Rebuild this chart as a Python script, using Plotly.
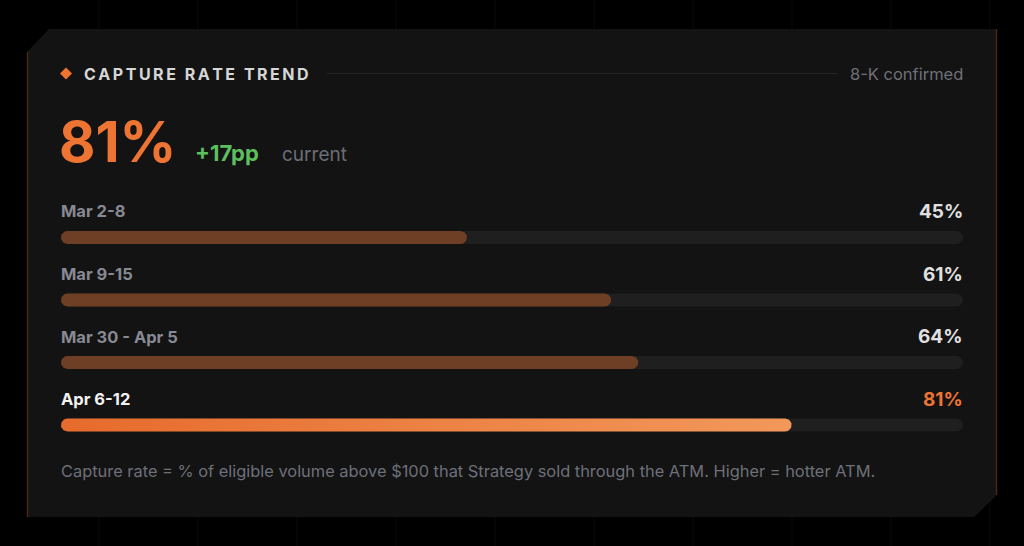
import numpy as np
import plotly.graph_objects as go

# =========================
# DATA
# =========================

weeks = ["Mar 2-8", "Mar 9-15", "Mar 30 - Apr 5", "Apr 6-12"]
capture_rate = [45, 61, 64, 81]
headline_value = "81%"
headline_delta = "+17pp"
headline_note = "current"
title_text = "CAPTURE RATE TREND"
source_text = "8-K confirmed"
footnote = ("Capture rate = % of eligible volume above $100 that Strategy "
            "sold through the ATM. Higher = hotter ATM.")

# =========================
# LAYOUT CONSTANTS (pixels)
# =========================

W, H = 1024, 546
TRACK_X0, TRACK_X1 = 61, 963
ROW0, ROW_GAP, BAR_H = 237.5, 62.5, 13
FONT = "Inter, 'Noto Sans', sans-serif"


def px(x):
    return x / W


def py(y):
    return 1 - y / H


rows = [ROW0 + i * ROW_GAP for i in range(len(weeks))]
last = len(weeks) - 1

# pill radius in axis units (x axis is 0-100 over the track, y axis is pixels)
R_Y = BAR_H / 2
R_X = R_Y * 100 / (TRACK_X1 - TRACK_X0)


def pill(value, yc):
    t_r = np.linspace(-np.pi / 2, np.pi / 2, 24)
    t_l = np.linspace(np.pi / 2, 3 * np.pi / 2, 24)
    xs = np.concatenate([value - R_X + R_X * np.cos(t_r), R_X + R_X * np.cos(t_l)])
    ys = np.concatenate([yc + R_Y * np.sin(t_r), yc + R_Y * np.sin(t_l)])
    return np.append(xs, xs[0]), np.append(ys, ys[0])


fig = go.Figure()

for i, val in enumerate(capture_rate):
    tx, ty = pill(100, rows[i])
    fig.add_trace(go.Scatter(
        x=tx, y=ty, mode="lines", fill="toself", fillcolor="#1F1F1F",
        line=dict(width=0, color="rgba(0,0,0,0)"),
        hoverinfo="skip", showlegend=False,
    ))
    bx, by = pill(val, rows[i])
    if i == last:
        fig.add_trace(go.Scatter(
            x=bx, y=by, mode="lines", fill="toself",
            line=dict(width=0, color="rgba(0,0,0,0)"),
            fillgradient=dict(type="horizontal",
                              colorscale=[[0, "#E66B2C"], [1, "#F2985A"]]),
            hoverinfo="skip", showlegend=False,
        ))
    else:
        fig.add_trace(go.Scatter(
            x=bx, y=by, mode="lines", fill="toself", fillcolor="#6E3E25",
            line=dict(width=0, color="rgba(0,0,0,0)"),
            hoverinfo="skip", showlegend=False,
        ))

# =========================
# CARD + DECORATION
# =========================

shapes = []
for gxp in range(99, W, 99):
    shapes.append(dict(type="line", xref="paper", yref="paper",
                       x0=px(gxp), x1=px(gxp), y0=0, y1=1,
                       line=dict(color="#0a0a0a", width=1), layer="below"))

card = (f"M {px(27)},{py(52)} L {px(49)},{py(29)} L {px(997)},{py(29)} "
        f"L {px(997)},{py(495)} L {px(974)},{py(517)} L {px(27)},{py(517)} Z")
shapes.append(dict(type="path", xref="paper", yref="paper", path=card,
                   fillcolor="#131313", line=dict(width=0), layer="below"))
shapes.append(dict(type="line", xref="paper", yref="paper",
                   x0=px(27.5), x1=px(27.5), y0=py(52), y1=py(517),
                   line=dict(color="#4A2616", width=1.5), layer="below"))
shapes.append(dict(type="line", xref="paper", yref="paper",
                   x0=px(996.5), x1=px(996.5), y0=py(29), y1=py(495),
                   line=dict(color="#4A2616", width=1.5), layer="below"))

# header diamond and rule
dx, dy, ds = 66, 73.5, 6
shapes.append(dict(type="path", xref="paper", yref="paper",
                   path=(f"M {px(dx)},{py(dy - ds)} L {px(dx + ds)},{py(dy)} "
                         f"L {px(dx)},{py(dy + ds)} L {px(dx - ds)},{py(dy)} Z"),
                   fillcolor="#EE7430", line=dict(width=0)))
shapes.append(dict(type="line", xref="paper", yref="paper",
                   x0=px(327), x1=px(837), y0=py(73.5), y1=py(73.5),
                   line=dict(color="#262626", width=1)))

# =========================
# TEXT
# =========================

ann = []


def label(text, x, y, size, color, weight=400, anchor="left"):
    ann.append(dict(text=text, x=px(x), y=py(y), xref="paper", yref="paper",
                    xanchor=anchor, yanchor="middle", showarrow=False,
                    font=dict(family=FONT, size=size, color=color,
                              weight=weight)))


label("\u2009".join(title_text), 82, 74, 16, "#D6D6D6", 700)
label(source_text, 965, 74, 16.5, "#6E7079", 400, "right")
label(headline_value, 57, 142, 56, "#EE7433", 700)
label(headline_delta, 193, 153, 22, "#5DBF5E", 700)
label(headline_note, 280, 154, 19, "#6B6D77", 400)

for i, (wk, val) in enumerate(zip(weeks, capture_rate)):
    is_last = i == last
    label(wk, 59, rows[i] - 26, 16.5,
          "#F2F2F2" if is_last else "#878993", 700)
    label(f"{val}%", 965, rows[i] - 26, 19,
          "#EE7433" if is_last else "#E0E0E0", 700, "right")

label(footnote, 59, 471, 16.4, "#6E7079", 400)

fig.update_layout(
    width=W, height=H,
    margin=dict(l=0, r=0, t=0, b=0),
    paper_bgcolor="#000000", plot_bgcolor="rgba(0,0,0,0)",
    xaxis=dict(domain=[px(TRACK_X0), px(TRACK_X1)], range=[0, 100],
               visible=False, fixedrange=True),
    yaxis=dict(domain=[0, 1], range=[H, 0], visible=False, fixedrange=True),
    shapes=shapes, annotations=ann,
)

fig.write_html("out.html", config={"displayModeBar": False},
               post_script="document.body.style.margin='0';"
                           "document.body.style.background='#000';")
